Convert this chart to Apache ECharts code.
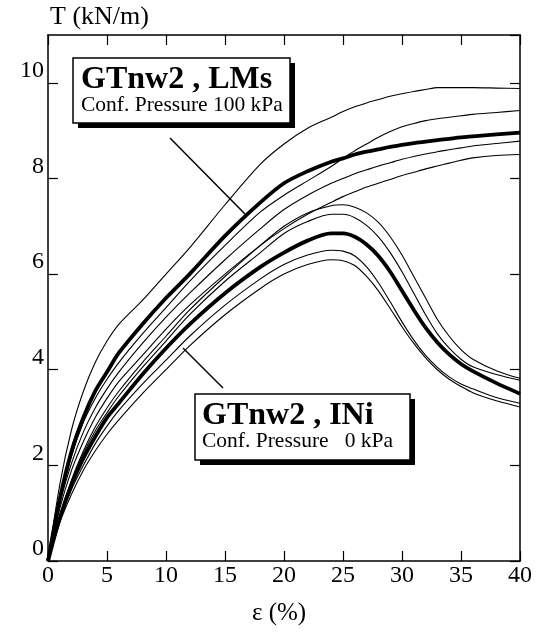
<!DOCTYPE html>
<html>
<head>
<meta charset="utf-8">
<script src="https://cdn.jsdelivr.net/npm/echarts@6.0.0/dist/echarts.min.js"></script>
<style>
  html, body { margin: 0; padding: 0; background: #fff; }
  #chart { width: 537px; height: 633px; }
</style>
</head>
<body>
<div id="chart"></div>
<script>
// strain (%) shared by every curve
const strain = [0, 1, 2, 3, 4, 5, 6, 8, 10, 12, 15, 18, 20, 22, 24, 25, 26, 27, 28, 29, 30, 31, 32, 33, 34, 35, 36, 38, 40];

// GTnw2, LMs - confining pressure 100 kPa
const lmsTop   = [0, 1.6, 2.75, 3.55, 4.15, 4.6, 4.95, 5.45, 6.0, 6.55, 7.45, 8.3, 8.72, 9.05, 9.28, 9.4, 9.5, 9.58, 9.65, 9.72, 9.77, 9.82, 9.86, 9.9, 9.9, 9.9, 9.9, 9.89, 9.88];
const lmsMean  = [0, 1.3, 2.3, 3.0, 3.55, 3.95, 4.35, 4.95, 5.5, 6.0, 6.8, 7.5, 7.9, 8.15, 8.35, 8.42, 8.5, 8.56, 8.61, 8.66, 8.7, 8.74, 8.77, 8.8, 8.83, 8.86, 8.88, 8.92, 8.96];
const lmsB     = [0, 1.25, 2.2, 2.9, 3.4, 3.8, 4.15, 4.75, 5.3, 5.85, 6.6, 7.3, 7.65, 7.95, 8.25, 8.42, 8.58, 8.72, 8.86, 8.98, 9.08, 9.15, 9.21, 9.25, 9.28, 9.31, 9.34, 9.38, 9.42];
const lmsC     = [0, 1.2, 2.05, 2.7, 3.2, 3.6, 3.95, 4.55, 5.1, 5.6, 6.3, 6.95, 7.35, 7.65, 7.9, 8.0, 8.1, 8.18, 8.26, 8.33, 8.4, 8.46, 8.51, 8.56, 8.6, 8.64, 8.68, 8.73, 8.78];
const lmsD     = [0, 1.1, 1.9, 2.5, 3.0, 3.4, 3.75, 4.3, 4.85, 5.35, 6.0, 6.6, 6.95, 7.25, 7.5, 7.62, 7.72, 7.82, 7.9, 7.98, 8.06, 8.13, 8.2, 8.26, 8.32, 8.38, 8.43, 8.48, 8.5];

// GTnw2, INi - confining pressure 0 kPa
const iniMean  = [0, 0.9, 1.6, 2.15, 2.6, 3.0, 3.3, 3.9, 4.45, 4.95, 5.6, 6.15, 6.45, 6.7, 6.85, 6.85, 6.78, 6.62, 6.38, 6.05, 5.65, 5.25, 4.88, 4.57, 4.32, 4.12, 3.97, 3.72, 3.5];
const iniA     = [0, 0.95, 1.7, 2.3, 2.8, 3.2, 3.55, 4.15, 4.7, 5.25, 5.95, 6.6, 7.0, 7.28, 7.43, 7.45, 7.4, 7.28, 7.08, 6.78, 6.4, 5.95, 5.5, 5.05, 4.7, 4.42, 4.22, 3.98, 3.82];
const iniB     = [0, 0.93, 1.65, 2.25, 2.72, 3.1, 3.45, 4.05, 4.6, 5.15, 5.85, 6.45, 6.85, 7.1, 7.25, 7.25, 7.18, 7.02, 6.78, 6.45, 6.05, 5.6, 5.15, 4.75, 4.45, 4.22, 4.06, 3.9, 3.78];
const iniC     = [0, 0.85, 1.5, 2.0, 2.45, 2.82, 3.15, 3.7, 4.2, 4.7, 5.35, 5.9, 6.2, 6.4, 6.5, 6.48, 6.38, 6.15, 5.82, 5.42, 5.0, 4.62, 4.3, 4.05, 3.85, 3.7, 3.6, 3.42, 3.3];
const iniD     = [0, 0.8, 1.4, 1.9, 2.3, 2.65, 2.95, 3.5, 4.0, 4.5, 5.15, 5.7, 6.0, 6.2, 6.3, 6.28, 6.18, 5.95, 5.65, 5.28, 4.9, 4.55, 4.25, 4.0, 3.8, 3.65, 3.52, 3.35, 3.22];

const thinCurves = [lmsTop, lmsB, lmsC, lmsD, iniA, iniB, iniC, iniD];
const thickCurves = [lmsMean, iniMean];

const serif = '"Liberation Serif", "DejaVu Serif", serif';

function makeSeries(vals, width) {
  return {
    type: 'line',
    data: strain.map((x, i) => [x, vals[i]]),
    smooth: 0.3,
    showSymbol: false,
    silent: true,
    lineStyle: { color: '#000', width: width },
    z: width > 2 ? 3 : 2
  };
}

const axisCommon = {
  type: 'value',
  axisLine: { show: true, onZero: false, lineStyle: { color: '#000', width: 1.5 } },
  axisTick: { show: true, inside: true, length: 10, lineStyle: { color: '#000', width: 1.2 } },
  splitLine: { show: false }
};

const chart = echarts.init(document.getElementById('chart'));

chart.setOption({
  animation: false,
  backgroundColor: '#fff',
  textStyle: { fontFamily: serif, color: '#000' },
  grid: { left: 48, right: 17, top: 35, bottom: 72, containLabel: false },
  xAxis: [
    Object.assign({}, axisCommon, {
      position: 'bottom', min: 0, max: 40, interval: 5,
      axisLabel: { fontFamily: serif, fontSize: 24, color: '#000', margin: 3 },
      name: 'ε (%)', nameLocation: 'middle', nameGap: 40,
      nameTextStyle: { fontFamily: serif, fontSize: 25, color: '#000', padding: [0, 10, 0, 0] }
    }),
    Object.assign({}, axisCommon, {
      position: 'top', min: 0, max: 40, interval: 5,
      axisLabel: { show: false }
    })
  ],
  yAxis: [
    Object.assign({}, axisCommon, {
      position: 'left', min: 0, max: 11, interval: 2,
      axisLabel: {
        fontFamily: serif, fontSize: 24, color: '#000', margin: 4,
        verticalAlign: 'bottom', showMaxLabel: false
      },
      name: 'T (kN/m)', nameLocation: 'end', nameGap: 5,
      nameTextStyle: { fontFamily: serif, fontSize: 26, color: '#000', align: 'left', verticalAlign: 'bottom', padding: [0, 0, 0, 2] }
    }),
    Object.assign({}, axisCommon, {
      position: 'right', min: 0, max: 11, interval: 2,
      axisLabel: { show: false }
    })
  ],
  series: thinCurves.map(v => makeSeries(v, 1.1)).concat(thickCurves.map(v => makeSeries(v, 3.8))),
  graphic: [
    // LMs label box
    { type: 'rect', z: 100, shape: { x: 78, y: 63, width: 217, height: 65 }, style: { fill: '#000' } },
    { type: 'rect', z: 101, shape: { x: 73, y: 58, width: 217, height: 65 }, style: { fill: '#fff', stroke: '#000', lineWidth: 1.5 } },
    { type: 'text', z: 102, style: { text: 'GTnw2 , LMs', x: 81, y: 80, font: 'bold 32px ' + serif, fill: '#000', verticalAlign: 'middle' } },
    { type: 'text', z: 102, style: { text: 'Conf. Pressure 100 kPa', x: 81, y: 105, font: '21.5px ' + serif, fill: '#000', verticalAlign: 'middle' } },
    { type: 'line', z: 100, shape: { x1: 170, y1: 138, x2: 245, y2: 214 }, style: { stroke: '#000', lineWidth: 1.5 } },
    // INi label box
    { type: 'rect', z: 100, shape: { x: 200, y: 399, width: 215, height: 66 }, style: { fill: '#000' } },
    { type: 'rect', z: 101, shape: { x: 195, y: 394, width: 215, height: 66 }, style: { fill: '#fff', stroke: '#000', lineWidth: 1.5 } },
    { type: 'text', z: 102, style: { text: 'GTnw2 , INi', x: 202, y: 416, font: 'bold 32px ' + serif, fill: '#000', verticalAlign: 'middle' } },
    { type: 'text', z: 102, style: { text: 'Conf. Pressure   0 kPa', x: 202, y: 441, font: '21.5px ' + serif, fill: '#000', verticalAlign: 'middle' } },
    { type: 'line', z: 100, shape: { x1: 183, y1: 348, x2: 223, y2: 388 }, style: { stroke: '#000', lineWidth: 1.5 } }
  ]
});
</script>
</body>
</html>
